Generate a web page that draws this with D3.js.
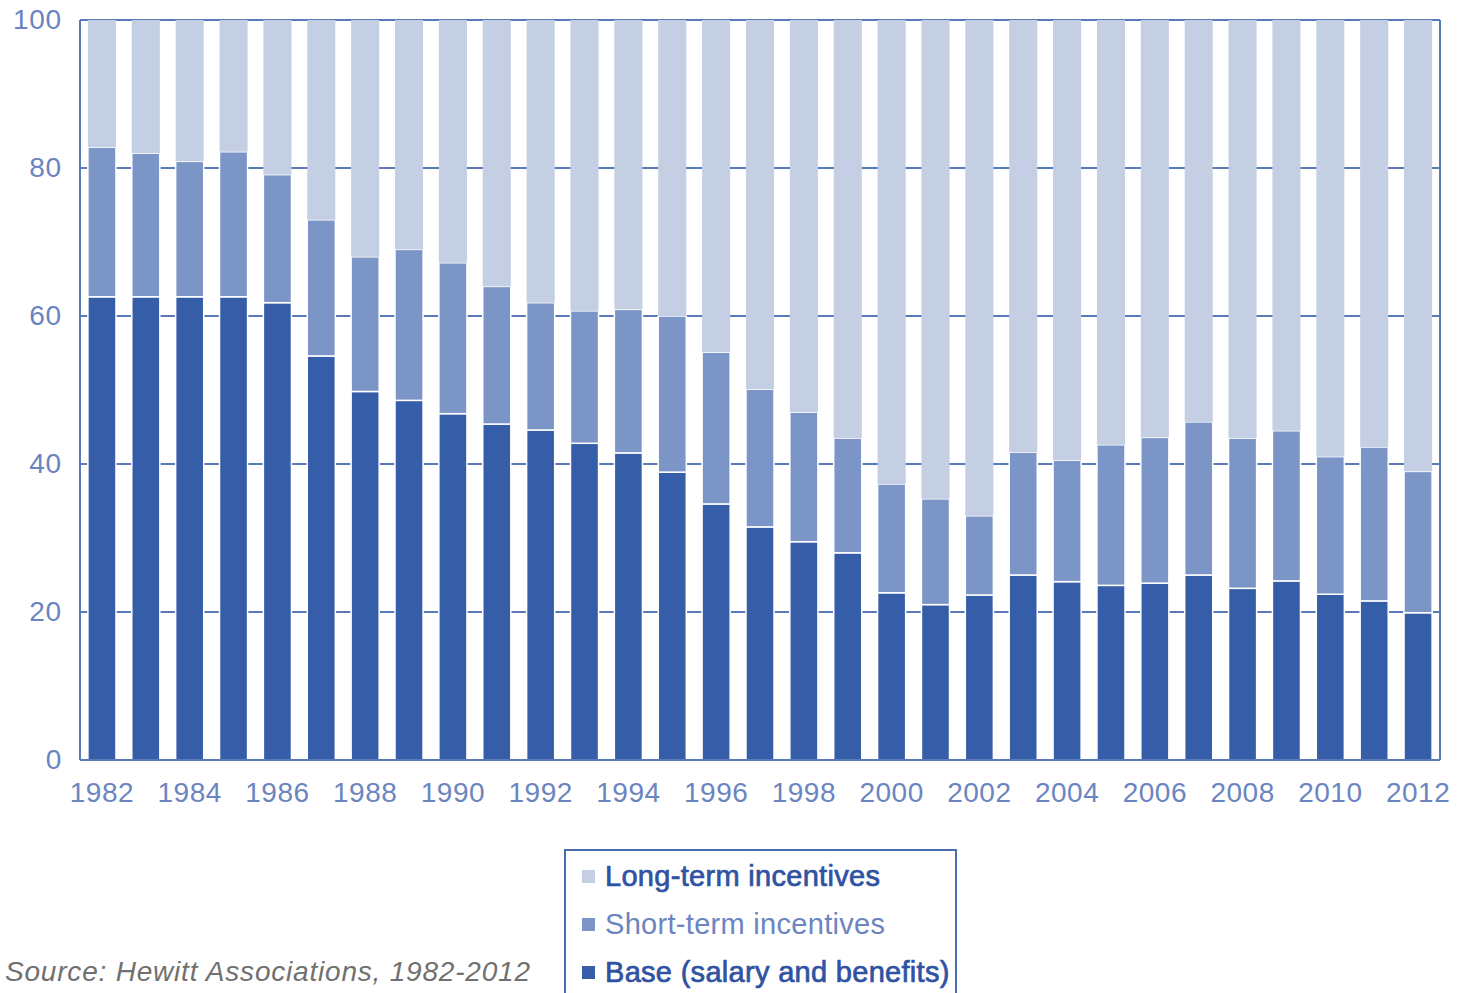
<!DOCTYPE html>
<html>
<head>
<meta charset="utf-8">
<script src="https://cdn.jsdelivr.net/npm/d3@7"></script>
<style>
  body { margin: 0; background: #fff; }
  svg { display: block; font-family: "Liberation Sans", Arial, sans-serif; }
</style>
</head>
<body>
<svg id="chart" width="1457" height="993"></svg>
<script>
// values (percent of total pay)
const years = d3.range(1982, 2013);
const base = [62.6, 62.6, 62.6, 62.6, 61.8, 54.6, 49.8, 48.6, 46.8, 45.4, 44.6, 42.8, 41.5, 38.9, 34.6, 31.5,
              29.5, 28.0, 22.6, 21.0, 22.3, 25.0, 24.1, 23.6, 23.9, 25.0, 23.2, 24.2, 22.4, 21.5, 19.9];
const shortTerm = [20.2, 19.4, 18.3, 19.6, 17.3, 18.4, 18.2, 20.4, 20.4, 18.6, 17.2, 17.9, 19.4, 21.1, 20.5, 18.6,
                   17.5, 15.5, 14.7, 14.3, 10.7, 16.6, 16.4, 19.0, 19.7, 20.7, 20.3, 20.3, 18.6, 20.8, 19.1];
const longTerm = [17.2, 18.0, 19.1, 17.8, 20.9, 27.0, 32.0, 31.0, 32.8, 36.0, 38.2, 39.3, 39.1, 40.0, 44.9, 49.9,
                  53.0, 56.5, 62.7, 64.7, 67.0, 58.4, 59.5, 57.4, 56.4, 54.3, 56.5, 55.5, 59.0, 57.7, 61.0];
const yTicks = [0, 20, 40, 60, 80, 100];
const seriesNames = ["Base (salary and benefits)", "Short-term incentives", "Long-term incentives"];

const colors = {
    "Base (salary and benefits)": "#365ea8",
    "Short-term incentives": "#7b96c6",
    "Long-term incentives": "#c4cfe4"
};
const lineColor = "#5a79b9";
const textColor = "#6a85c0";

const svg = d3.select("#chart");
const mLeft = 80, mRight = 1440, mTop = 20, mBottom = 760;

let rows = years.map((yr, i) => ({
    year: yr,
    "Base (salary and benefits)": base[i],
    "Short-term incentives": shortTerm[i],
    "Long-term incentives": longTerm[i]
}));

let x = d3.scaleBand()
    .domain(years)
    .range([mLeft, mRight])
    .paddingInner(0.36)
    .paddingOuter(0.18);

let y = d3.scaleLinear()
    .domain([0, 100])
    .range([mBottom, mTop]);

// gridlines (behind the bars)
svg.append("g")
    .selectAll("line")
    .data(yTicks.filter(t => t > 0))
    .enter()
    .append("line")
    .attr("x1", mLeft)
    .attr("x2", mRight)
    .attr("y1", d => y(d))
    .attr("y2", d => y(d))
    .attr("stroke", lineColor)
    .attr("stroke-width", 2);

// stacked bars
let stack = d3.stack().keys(seriesNames);
let layers = stack(rows);

svg.append("g")
    .selectAll("g")
    .data(layers)
    .enter()
    .append("g")
    .attr("fill", d => colors[d.key])
    .selectAll("rect")
    .data(d => d.map(p => Object.assign(p, { key: d.key })))
    .enter()
    .append("rect")
    .attr("x", d => x(d.data.year))
    .attr("width", x.bandwidth())
    .attr("y", d => y(d[1]))
    .attr("height", d => y(d[0]) - y(d[1]))
    .attr("stroke", d => d.key === seriesNames[2] ? "none" : "#fff")
    .attr("stroke-width", 1.5);

// frame: left axis, bottom axis, right border
svg.append("line")
    .attr("x1", mLeft).attr("x2", mLeft)
    .attr("y1", mTop).attr("y2", mBottom)
    .attr("stroke", lineColor).attr("stroke-width", 2);
svg.append("line")
    .attr("x1", mRight).attr("x2", mRight)
    .attr("y1", mTop).attr("y2", mBottom)
    .attr("stroke", lineColor).attr("stroke-width", 2);
svg.append("line")
    .attr("x1", mLeft).attr("x2", mRight)
    .attr("y1", mBottom).attr("y2", mBottom)
    .attr("stroke", lineColor).attr("stroke-width", 2);

// y axis labels
let axisY = d3.axisLeft(y).tickValues(yTicks).tickSize(0).tickPadding(18);
svg.append("g")
    .attr("transform", `translate(${mLeft}, 0)`)
    .call(axisY)
    .call(g => g.select(".domain").remove())
    .selectAll("text")
    .attr("fill", textColor)
    .style("font-size", "28px")
    .style("letter-spacing", "0.8px");

// x axis labels (every second year)
let axisX = d3.axisBottom(x)
    .tickValues(years.filter(v => (v - 1982) % 2 === 0))
    .tickSize(0)
    .tickPadding(22);
svg.append("g")
    .attr("transform", `translate(0, ${mBottom})`)
    .call(axisX)
    .call(g => g.select(".domain").remove())
    .selectAll("text")
    .attr("fill", textColor)
    .style("font-size", "28px")
    .style("letter-spacing", "0.5px");

// legend
let legend = svg.append("g");
legend.append("rect")
    .attr("x", 565).attr("y", 850)
    .attr("width", 391).attr("height", 160)
    .attr("fill", "#fff")
    .attr("stroke", "#4a6cb0")
    .attr("stroke-width", 2);

let legendItems = [
    { name: "Long-term incentives", text: "#2f52a2", heavy: true },
    { name: "Short-term incentives", text: "#6a85c0", heavy: false },
    { name: "Base (salary and benefits)", text: "#2f52a2", heavy: true }
];

legendItems.forEach((item, i) => {
    let cy = 876 + i * 48;
    legend.append("rect")
        .attr("x", 582).attr("y", cy - 6)
        .attr("width", 13).attr("height", 13)
        .attr("fill", colors[item.name]);
    legend.append("text")
        .attr("x", 605).attr("y", cy + 10)
        .attr("fill", item.text)
        .attr("stroke", item.heavy ? item.text : "none")
        .attr("stroke-width", 0.7)
        .style("font-size", "29px")
        .style("letter-spacing", "0.3px")
        .text(item.name);
});

// source note
svg.append("text")
    .attr("x", 5).attr("y", 981)
    .attr("fill", "#707070")
    .style("font-size", "28px")
    .style("font-style", "italic")
    .style("letter-spacing", "0.8px")
    .text("Source: Hewitt Associations, 1982-2012");
</script>
</body>
</html>
